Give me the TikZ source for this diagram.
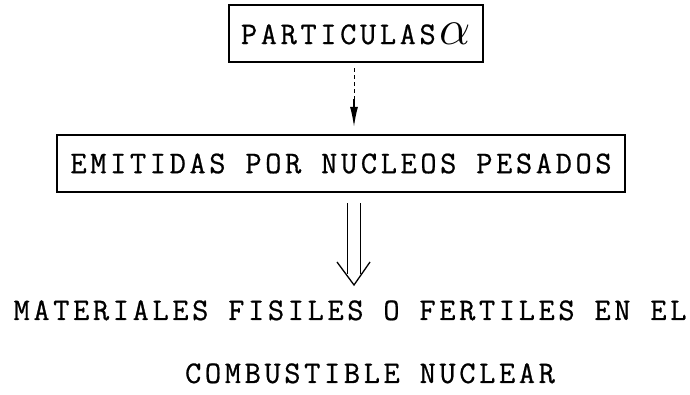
\documentclass[tikz,border=0pt]{standalone}
\usepackage{fontspec}
\setmonofont[LetterSpace=11.5, FakeBold=0.7]{Latin Modern Mono}
\usetikzlibrary{arrows.meta}

\begin{document}
\begin{tikzpicture}[x=1pt, y=1pt,
      every node/.style={font=\ttfamily\fontsize{31.5}{38}\selectfont},
      frame/.style={draw, line width=2.4pt, inner sep=0pt, minimum height=57pt}]
    \useasboundingbox (0,0) rectangle (690,395);
    \node[frame, minimum width=254pt] (partic) at (356,361.5)
          {PARTICULAS\hspace{4pt}\scalebox{2}{$\alpha$}};
    \node[frame, minimum width=568pt] (emit) at (341,231.5)
          {EMITIDAS POR NUCLEOS PESADOS};
    \node[anchor=base] (mat)  at (350,75) {MATERIALES FISILES O FERTILES EN EL};
    \node[anchor=base] (comb) at (370,12) {COMBUSTIBLE NUCLEAR};
    % broken stem first, then the solid part with the head
    \coordinate (brk) at (354,296);
    \draw[line width=1pt, dash pattern=on 4pt off 3pt, shorten <=5pt]
          (partic.south -| brk) -- (brk);
    \draw[line width=1.2pt, -{Latex[length=20pt,width=8pt]}, shorten >=7pt]
          (brk) -- (emit.north -| brk);
    % open double arrow down to the last text
    \coordinate (tip) at (354,110);
    \draw[line width=1.3pt, double, double distance=12pt, shorten <=10pt]
          (emit.south -| tip) -- ([yshift=11pt]tip);
    \draw[line width=1.3pt] ([shift={(-17pt,23pt)}]tip) -- (tip)
          -- ([shift={(16pt,23pt)}]tip);
  \end{tikzpicture}
\end{document}
